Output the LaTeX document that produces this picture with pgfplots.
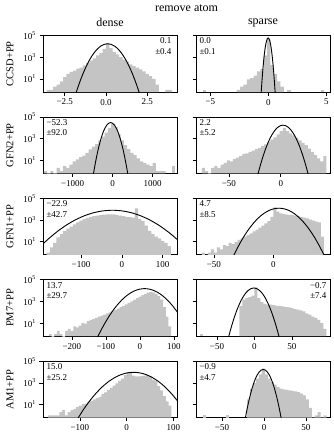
\documentclass[border=0pt]{standalone}
\usepackage{fontspec}
\setmainfont{Liberation Serif}
\usepackage{pgfplots}
\pgfplotsset{compat=1.18}
\definecolor{histgray}{RGB}{196,196,196}

% common look of all ten panels
\pgfplotsset{every axis/.append style={
    scale only axis, width=134pt, height=56.5pt,
    ymin=0.63, ymax=1e5,
    ytick={10,1000,100000},
    yminorticks=false,
    tick pos=left, tick align=outside, major tick length=3.5pt,
    tick style={black, line width=0.6pt},
    axis line style={line width=0.7pt},
    tick label style={font=\fontsize{9}{10}\selectfont},
}}
\tikzset{
  myhist/.style={ybar interval, fill=histgray, draw=none},
  myfit/.style={smooth, black, line width=0.9pt, mark=none},
  mystat/.style={font=\fontsize{9}{10.5}\selectfont, inner sep=0pt},
}

\begin{document}
\begin{tikzpicture}
\useasboundingbox (0pt,0pt) rectangle (333pt,-442pt);

\node[font=\fontsize{12}{14}\selectfont] at (186.5pt,-8.5pt) {remove atom};
\node[font=\fontsize{12}{14}\selectfont] at (110pt,-22.5pt) {dense};
\node[font=\fontsize{12}{14}\selectfont] at (263pt,-22.5pt) {sparse};
\node[rotate=90, font=\fontsize{10.5}{12}\selectfont] at (10pt,-63.7pt) {CCSD+PP};
\node[rotate=90, font=\fontsize{10.5}{12}\selectfont] at (10pt,-145.1pt) {GFN2+PP};
\node[rotate=90, font=\fontsize{10.5}{12}\selectfont] at (10pt,-226.5pt) {GFN1+PP};
\node[rotate=90, font=\fontsize{10.5}{12}\selectfont] at (10pt,-307.9pt) {PM7+PP};
\node[rotate=90, font=\fontsize{10.5}{12}\selectfont] at (10pt,-389.3pt) {AM1+PP};

% ---- CCSD dense
\begin{axis}[ymode=log, log origin=infty, anchor=north west, at={(43pt,-35.5pt)},
  xmin=-3.82, xmax=4.3,
  yticklabels={10\textsuperscript{1},10\textsuperscript{3},10\textsuperscript{5}},
  xtick={-2.5,0,2.5}, xticklabels={−2.5,0.0,2.5}]
\addplot[myhist] coordinates {(-3.6,1) (-3.4,1) (-3.2,2) (-3.0,3) (-2.8,6) (-2.6,15) (-2.4,30) (-2.2,45) (-2.0,60) (-1.8,90) (-1.6,110) (-1.4,180) (-1.2,300) (-1.0,500) (-0.8,800) (-0.6,1500) (-0.4,2500) (-0.2,6000) (0.0,20000) (0.2,7000) (0.4,3000) (0.6,1800) (0.8,1000) (1.0,600) (1.2,400) (1.4,220) (1.6,150) (1.8,110) (2.0,75) (2.2,50) (2.4,30) (2.6,18) (2.8,10) (3.0,3) (3.2,3)};
\addplot[myhist] coordinates {(3.6,1) (3.8,1) (4.0,1)};
\addplot[myfit] coordinates {(-2.0,0.064) (-1.79,0.70) (-1.58,5.8) (-1.37,38) (-1.16,193) (-0.95,765) (-0.74,2354) (-0.53,5650) (-0.32,10550) (-0.11,15360) (0.1,17400) (0.31,15360) (0.52,10550) (0.73,5650) (0.94,2354) (1.15,765) (1.36,193) (1.57,38) (1.78,5.8) (1.99,0.70) (2.2,0.064)};
\node[mystat, anchor=north east, align=right] at (rel axis cs:0.96,0.96) {0.1\\±0.4};
\end{axis}

% ---- CCSD sparse
\begin{axis}[ymode=log, log origin=infty, anchor=north west, at={(196pt,-35.5pt)},
  xmin=-6.24, xmax=5.31, yticklabels={},
  xtick={-5,0,5}, xticklabels={−5,0,5}]
\addplot[myhist] coordinates {(-5.63,1) (-5.34,1)};
\addplot[myhist] coordinates {(-2.73,1) (-2.44,2) (-2.15,3) (-1.86,9) (-1.57,12) (-1.28,20) (-0.99,50) (-0.70,80) (-0.41,1500) (-0.12,50000) (0.17,200) (0.46,30) (0.75,6) (1.04,2) (1.33,2)};
\addplot[myhist] coordinates {(1.62,1) (1.91,1)};
\addplot[myhist] coordinates {(4.52,1) (4.81,1)};
\addplot[myfit] coordinates {(-0.645,0.22) (-0.5825,2.4) (-0.52,20) (-0.4575,131) (-0.395,667) (-0.3325,2636) (-0.27,8118) (-0.2075,19480) (-0.145,36390) (-0.0825,52950) (-0.02,60000) (0.0425,52950) (0.105,36390) (0.1675,19480) (0.23,8118) (0.2925,2636) (0.355,667) (0.4175,131) (0.48,20) (0.5425,2.4) (0.605,0.22)};
\node[mystat, anchor=north west, align=left] at (rel axis cs:0.025,0.96) {0.0\\±0.1};
\end{axis}

% ---- GFN2 dense
\begin{axis}[ymode=log, log origin=infty, anchor=north west, at={(43pt,-116.9pt)},
  xmin=-1742, xmax=1607,
  yticklabels={10\textsuperscript{1},10\textsuperscript{3},10\textsuperscript{5}},
  xtick={-1000,0,1000}, xticklabels={−1000,0,1000}]
\addplot[myhist] coordinates {(-1720,1) (-1640,0.001) (-1560,1) (-1480,0.001) (-1400,2) (-1320,1) (-1240,3) (-1160,2) (-1080,4) (-1000,8) (-920,12) (-840,20) (-760,28) (-680,50) (-600,100) (-520,180) (-440,320) (-360,700) (-280,1500) (-200,3500) (-120,10000) (-40,25000) (40,12000) (120,2500) (200,700) (280,250) (360,110) (440,50) (520,30) (600,15) (680,8) (760,6) (840,4) (920,3) (1000,6) (1080,1) (1160,1) (1240,1) (1320,1)};
\addplot[myhist] coordinates {(1480,3) (1560,3)};
\addplot[myfit] coordinates {(-512.3,0.11) (-466.3,1.21) (-420.3,10.1) (-374.3,66) (-328.3,336) (-282.3,1327) (-236.3,4086) (-190.3,9806) (-144.3,18316) (-98.3,26650) (-52.3,30200) (-6.3,26650) (39.7,18316) (85.7,9806) (131.7,4086) (177.7,1327) (223.7,336) (269.7,66) (315.7,10.1) (361.7,1.21) (407.7,0.11)};
\node[mystat, anchor=north west, align=left] at (rel axis cs:0.025,0.96) {−52.3\\±92.0};
\end{axis}

% ---- GFN2 sparse
\begin{axis}[ymode=log, log origin=infty, anchor=north west, at={(196pt,-116.9pt)},
  xmin=-81.6, xmax=47.4, yticklabels={},
  xtick={-50,0}, xticklabels={−50,0}]
\addplot[myhist] coordinates {(-76,2) (-73,1) (-70,0.001) (-67,2) (-64,3) (-61,2) (-58,4) (-55,6) (-52,10) (-49,8) (-46,14) (-43,18) (-40,25) (-37,40) (-34,45) (-31,60) (-28,80) (-25,110) (-22,140) (-19,200) (-16,300) (-13,500) (-10,800) (-7,1300) (-4,2500) (-1,5000) (2,10000) (5,5000) (8,3000) (11,2000) (14,1200) (17,700) (20,400) (23,250) (26,120) (29,60) (32,30) (35,15) (38,8) (41,25) (44,25)};
\addplot[myfit] coordinates {(-24.3,0.064) (-21.65,0.70) (-19,5.8) (-16.35,38) (-13.7,193) (-11.05,765) (-8.4,2354) (-5.75,5650) (-3.1,10550) (-0.45,15360) (2.2,17400) (4.85,15360) (7.5,10550) (10.15,5650) (12.8,2354) (15.45,765) (18.1,193) (20.75,38) (23.4,5.8) (26.05,0.70) (28.7,0.064)};
\node[mystat, anchor=north west, align=left] at (rel axis cs:0.025,0.96) {2.2\\±5.2};
\end{axis}

% ---- GFN1 dense
\begin{axis}[ymode=log, log origin=infty, anchor=north west, at={(43pt,-198.3pt)},
  xmin=-193, xmax=135,
  yticklabels={10\textsuperscript{1},10\textsuperscript{3},10\textsuperscript{5}},
  xtick={-100,0,100}, xticklabels={−100,0,100}]
\addplot[myhist] coordinates {(-184,1) (-176,3) (-168,8) (-160,25) (-152,50) (-144,100) (-136,160) (-128,250) (-120,400) (-112,600) (-104,900) (-96,1200) (-88,1600) (-80,2000) (-72,2300) (-64,2600) (-56,2900) (-48,3100) (-40,3300) (-32,3400) (-24,3300) (-16,3000) (-8,2600) (0,2300) (8,2000) (16,1900) (24,1700) (32,12000) (40,1200) (48,800) (56,300) (64,100) (72,50) (80,30) (88,20) (96,12) (104,8) (112,4) (120,4)};
\addplot[myfit] coordinates {(-247.9,0.029) (-225.4,0.318) (-202.9,2.66) (-180.4,17.4) (-157.9,88.2) (-135.4,349) (-112.9,1075) (-90.4,2579) (-67.9,4817) (-45.4,7010) (-22.9,7943) (-0.4,7010) (22.1,4817) (44.6,2579) (67.1,1075) (89.6,349) (112.1,88.2) (134.6,17.4) (157.1,2.66) (179.6,0.318) (202.1,0.029)};
\node[mystat, anchor=north west, align=left] at (rel axis cs:0.025,0.96) {−22.9\\±42.7};
\end{axis}

% ---- GFN1 sparse
\begin{axis}[ymode=log, log origin=infty, anchor=north west, at={(196pt,-198.3pt)},
  xmin=-65, xmax=47.6, yticklabels={},
  xtick={-50,0}, xticklabels={−50,0}]
\addplot[myhist] coordinates {(-60,1) (-57.5,0.001) (-55,1) (-52.5,2) (-50,1) (-47.5,3) (-45,2) (-42.5,5) (-40,4) (-37.5,8) (-35,6) (-32.5,10) (-30,15) (-27.5,20) (-25,30) (-22.5,40) (-20,60) (-17.5,90) (-15,130) (-12.5,200) (-10,300) (-7.5,500) (-5,800) (-2.5,2000) (0,15000) (2.5,6000) (5,4000) (7.5,3500) (10,3200) (12.5,3000) (15,2800) (17.5,2500) (20,2200) (22.5,2000) (25,1700) (27.5,1400) (30,1100) (32.5,900) (35,700) (37.5,600) (40,30) (42.5,30)};
\addplot[myfit] coordinates {(-37.8,0.046) (-33.55,0.49) (-29.3,4.1) (-25.05,26.9) (-20.8,136) (-16.55,540) (-12.3,1665) (-8.05,3994) (-3.8,7460) (0.45,10855) (4.7,12300) (8.95,10855) (13.2,7460) (17.45,3994) (21.7,1665) (25.95,540) (30.2,136) (34.45,26.9) (38.7,4.1) (42.95,0.49) (47.2,0.046)};
\node[mystat, anchor=north west, align=left] at (rel axis cs:0.025,0.96) {4.7\\±8.5};
\end{axis}

% ---- PM7 dense
\begin{axis}[ymode=log, log origin=infty, anchor=north west, at={(43pt,-279.7pt)},
  xmin=-285, xmax=109,
  yticklabels={10\textsuperscript{1},10\textsuperscript{3},10\textsuperscript{5}},
  xtick={-200,-100,0,100}, xticklabels={−200,−100,0,100}]
\addplot[myhist] coordinates {(-268,1) (-260,0.001) (-252,1) (-244,2) (-236,1) (-228,0.001) (-220,2) (-212,3) (-204,2) (-196,5) (-188,4) (-180,6) (-172,10) (-164,9) (-156,15) (-148,20) (-140,25) (-132,30) (-124,40) (-116,50) (-108,60) (-100,80) (-92,100) (-84,130) (-76,170) (-68,220) (-60,300) (-52,400) (-44,550) (-36,750) (-28,1000) (-20,1400) (-12,2000) (-4,2800) (4,3800) (12,5000) (20,6500) (28,7500) (36,7000) (44,5000) (52,3000) (60,1500) (68,300) (76,40) (84,5) (92,5)};
\addplot[myfit] coordinates {(-138.8,0.056) (-123.55,0.60) (-108.3,5.06) (-93.05,33) (-77.8,168) (-62.55,663) (-47.3,2043) (-32.05,4903) (-16.8,9158) (-1.55,13326) (13.7,15100) (28.95,13326) (44.2,9158) (59.45,4903) (74.7,2043) (89.95,663) (105.2,168) (120.45,33) (135.7,5.06) (150.95,0.60) (166.2,0.056)};
\node[mystat, anchor=north west, align=left] at (rel axis cs:0.025,0.96) {13.7\\±29.7};
\end{axis}

% ---- PM7 sparse
\begin{axis}[ymode=log, log origin=infty, anchor=north west, at={(196pt,-279.7pt)},
  xmin=-78, xmax=101, yticklabels={},
  xtick={-50,0,50}, xticklabels={−50,0,50}]
\addplot[myhist] coordinates {(-72,1) (-68,1)};
\addplot[myhist] coordinates {(-20,400) (-16,1500) (-12,2000) (-8,2500) (-4,3500) (0,20000) (4,2000) (8,900) (12,600) (16,500) (20,500) (24,450) (28,400) (32,380) (36,350) (40,300) (44,280) (48,250) (52,200) (56,180) (60,150) (64,120) (68,80) (72,60) (76,40) (80,30) (84,20) (88,10) (92,3) (96,3)};
\addplot[myfit] coordinates {(-37.7,0.064) (-34,0.70) (-30.3,5.8) (-26.6,38) (-22.9,193) (-19.2,765) (-15.5,2354) (-11.8,5650) (-8.1,10550) (-4.4,15360) (-0.7,17400) (3.0,15360) (6.7,10550) (10.4,5650) (14.1,2354) (17.8,765) (21.5,193) (25.2,38) (28.9,5.8) (32.6,0.70) (36.3,0.064)};
\node[mystat, anchor=north east, align=right] at (rel axis cs:0.975,0.96) {−0.7\\±7.4};
\end{axis}

% ---- AM1 dense
\begin{axis}[ymode=log, log origin=infty, anchor=north west, at={(43pt,-361.1pt)},
  xmin=-179, xmax=108,
  yticklabels={10\textsuperscript{1},10\textsuperscript{3},10\textsuperscript{5}},
  xtick={-100,0,100}, xticklabels={−100,0,100}]
\addplot[myhist] coordinates {(-168,1) (-162,1) (-156,1) (-150,1) (-144,2) (-138,3) (-132,1) (-126,2) (-120,3) (-114,4) (-108,6) (-102,8) (-96,11) (-90,12) (-84,18) (-78,22) (-72,30) (-66,40) (-60,50) (-54,90) (-48,130) (-42,220) (-36,350) (-30,550) (-24,900) (-18,1500) (-12,2500) (-6,5000) (0,9000) (6,8000) (12,4500) (18,4000) (24,4000) (30,4200) (36,4500) (42,5000) (48,4000) (54,2000) (60,1500) (66,500) (72,200) (78,60) (84,20) (90,8) (96,8)};
\addplot[myfit] coordinates {(-120,0.035) (-106.5,0.37) (-93,3.13) (-79.5,20.4) (-66,103) (-52.5,410) (-39,1262) (-25.5,3030) (-12,5659) (1.5,8234) (15,9330) (28.5,8234) (42,5659) (55.5,3030) (69,1262) (82.5,410) (96,103) (109.5,20.4) (123,3.13) (136.5,0.37) (150,0.035)};
\node[mystat, anchor=north west, align=left] at (rel axis cs:0.025,0.96) {15.0\\±25.2};
\end{axis}

% ---- AM1 sparse
\begin{axis}[ymode=log, log origin=infty, anchor=north west, at={(196pt,-361.1pt)},
  xmin=-81, xmax=78.6, yticklabels={},
  xtick={-50,0,50}, xticklabels={−50,0,50}]
\addplot[myhist] coordinates {(-73,1) (-69.5,1)};
\addplot[myhist] coordinates {(-45,1) (-41.5,1)};
\addplot[myhist] coordinates {(-20,30) (-16.5,300) (-13,1000) (-9.5,2500) (-6,6000) (-2.5,20000) (1,6000) (4.5,2500) (8,1200) (11.5,700) (15,400) (18.5,300) (22,250) (25.5,220) (29,200) (32.5,180) (36,160) (39.5,140) (43,100) (46.5,70) (50,30) (53.5,5) (57,0.001) (60.5,1) (64,2) (67.5,0.001) (71,1) (74.5,1)};
\addplot[myfit] coordinates {(-24.4,0.063) (-22.05,0.68) (-19.7,5.7) (-17.35,37.2) (-15,189) (-12.65,747) (-10.3,2300) (-7.95,5520) (-5.6,10310) (-3.25,15000) (-0.9,17000) (1.45,15000) (3.8,10310) (6.15,5520) (8.5,2300) (10.85,747) (13.2,189) (15.55,37.2) (17.9,5.7) (20.25,0.68) (22.6,0.063)};
\node[mystat, anchor=north west, align=left] at (rel axis cs:0.025,0.96) {−0.9\\±4.7};
\end{axis}

\end{tikzpicture}
\end{document}
